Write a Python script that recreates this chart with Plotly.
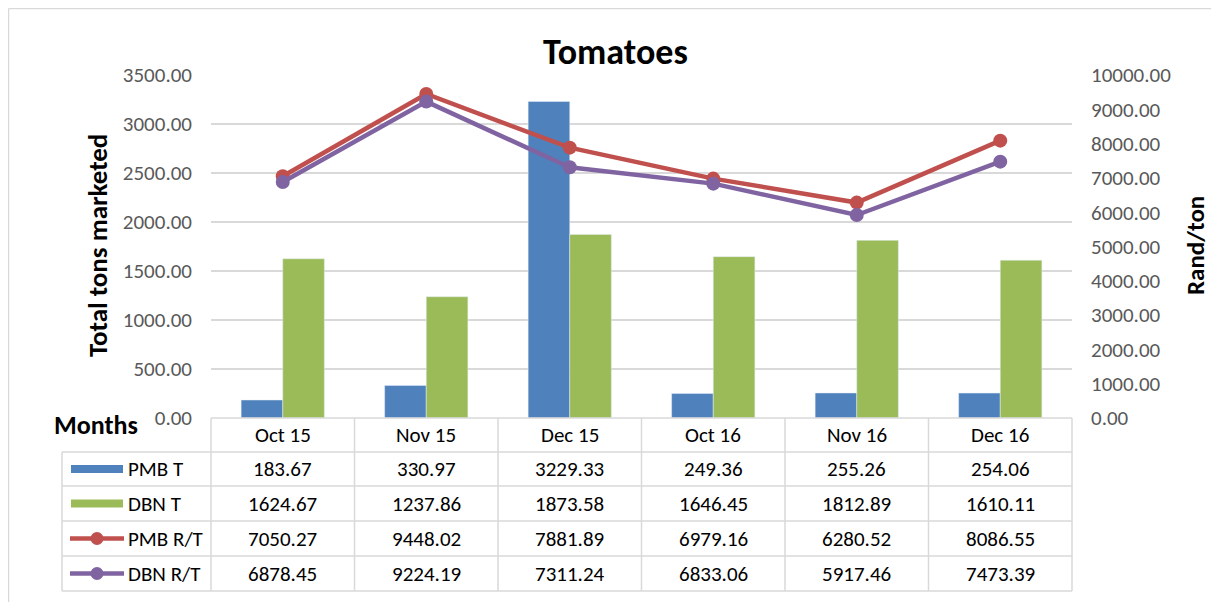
import plotly.graph_objects as go

categories = ["Oct 15", "Nov 15", "Dec 15", "Oct 16", "Nov 16", "Dec 16"]
pmb_t = [183.67, 330.97, 3229.33, 249.36, 255.26, 254.06]
dbn_t = [1624.67, 1237.86, 1873.58, 1646.45, 1812.89, 1610.11]
pmb_rt = [7050.27, 9448.02, 7881.89, 6979.16, 6280.52, 8086.55]
dbn_rt = [6878.45, 9224.19, 7311.24, 6833.06, 5917.46, 7473.39]
series_names = ["PMB T", "DBN T", "PMB R/T", "DBN R/T"]

BLUE = "#4F81BD"
GREEN = "#9BBB59"
RED = "#C0504D"
PURPLE = "#8064A2"
GRID = "#D9D9D9"
FONT = "Calibri, Carlito, Lato, sans-serif"

OFF = 8  # page body margin offset
W, H = 1219 - 2 * OFF, 610 - 2 * OFF
# plot area in reference pixel coords
RL, RR, RT, RB = 211, 1072, 75, 418
L, R, T, B = RL - OFF, RR - OFF, RT - OFF, RB - OFF


def px(x):
    return (x - RL) / (RR - RL)


def py(y):
    return (RB - y) / (RB - RT)


fig = go.Figure()
fig.add_trace(go.Bar(x=categories, y=pmb_t, name=series_names[0], marker_color=BLUE))
fig.add_trace(go.Bar(x=categories, y=dbn_t, name=series_names[1], marker_color=GREEN))
fig.add_trace(go.Scatter(x=categories, y=pmb_rt, name=series_names[2], yaxis="y2",
                         mode="lines+markers", line=dict(color=RED, width=4.5),
                         marker=dict(size=14, color=RED)))
fig.add_trace(go.Scatter(x=categories, y=dbn_rt, name=series_names[3], yaxis="y2",
                         mode="lines+markers", line=dict(color=PURPLE, width=4.5),
                         marker=dict(size=14, color=PURPLE)))

shapes = []
annotations = []
TXT = 21

# outer border (only top and left edges are visible in the picture)
shapes.append(dict(type="line", xref="paper", yref="paper", x0=px(8.5), x1=px(1219),
                   y0=py(8.5), y1=py(8.5), line=dict(color=GRID, width=1.5), layer="below"))
shapes.append(dict(type="line", xref="paper", yref="paper", x0=px(8.5), x1=px(8.5),
                   y0=py(8.5), y1=py(610), line=dict(color=GRID, width=1.5), layer="below"))

# table geometry
row_edges = [418, 452, 486, 521, 556, 591]
legend_left = 62
ncol = len(categories)
col_w = (RR - RL) / ncol
col_edges = [RL + i * col_w for i in range(ncol + 1)]

shapes.append(dict(type="line", xref="paper", yref="paper", x0=px(RL), x1=px(RR),
                   y0=py(418), y1=py(418), line=dict(color=GRID, width=1.5)))
for yy in row_edges[1:]:
    shapes.append(dict(type="line", xref="paper", yref="paper", x0=px(legend_left), x1=px(RR),
                       y0=py(yy), y1=py(yy), line=dict(color=GRID, width=1.5)))
shapes.append(dict(type="line", xref="paper", yref="paper", x0=px(legend_left), x1=px(legend_left),
                   y0=py(452), y1=py(591), line=dict(color=GRID, width=1.5)))
for xx in col_edges:
    shapes.append(dict(type="line", xref="paper", yref="paper", x0=px(xx), x1=px(xx),
                       y0=py(418), y1=py(591), line=dict(color=GRID, width=1.5)))

# header labels
for c in categories:
    annotations.append(dict(x=c, xref="x", y=py(435), yref="paper", text=c, showarrow=False,
                            xanchor="center", yanchor="middle",
                            font=dict(size=TXT, color="black", family=FONT)))

rows = [pmb_t, dbn_t, pmb_rt, dbn_rt]
colors = [BLUE, GREEN, RED, PURPLE]
for i, (name, vals, col) in enumerate(zip(series_names, rows, colors)):
    yc = (row_edges[i + 1] + row_edges[i + 2]) / 2
    for c, v in zip(categories, vals):
        annotations.append(dict(x=c, xref="x", y=py(yc), yref="paper", text=f"{v:.2f}",
                                showarrow=False, xanchor="center", yanchor="middle",
                                font=dict(size=TXT, color="black", family=FONT)))
    annotations.append(dict(x=px(126), xref="paper", y=py(yc), yref="paper", text=name,
                            xanchor="left", yanchor="middle", showarrow=False,
                            font=dict(size=TXT, color="black", family=FONT)))
    if i < 2:
        shapes.append(dict(type="rect", xref="paper", yref="paper", x0=px(71), x1=px(123),
                           y0=py(yc - 4), y1=py(yc + 4), fillcolor=col, line=dict(width=0)))
    else:
        shapes.append(dict(type="line", xref="paper", yref="paper", x0=px(70), x1=px(124),
                           y0=py(yc), y1=py(yc), line=dict(color=col, width=4.5)))
        shapes.append(dict(type="circle", xref="paper", yref="paper", x0=px(90.5), x1=px(103.5),
                           y0=py(yc - 6.5), y1=py(yc + 6.5), fillcolor=col, line=dict(width=0)))

# titles
annotations.append(dict(x=px(615), xref="paper", y=py(52), yref="paper", text="<b>Tomatoes</b>",
                        xanchor="center", yanchor="middle",
                        showarrow=False, font=dict(size=36, color="black", family=FONT)))
annotations.append(dict(x=px(98), xref="paper", y=py(246), yref="paper",
                        text="<b>Total tons marketed</b>", textangle=-90, showarrow=False,
                        xanchor="center", yanchor="middle",
                        font=dict(size=27, color="black", family=FONT)))
annotations.append(dict(x=px(1196), xref="paper", y=py(246), yref="paper",
                        text="<b>Rand/ton</b>", textangle=-90, showarrow=False,
                        xanchor="center", yanchor="middle",
                        font=dict(size=25, color="black", family=FONT)))
annotations.append(dict(x=px(96), xref="paper", y=py(425), yref="paper",
                        text="<b>Months</b>", showarrow=False,
                        xanchor="center", yanchor="middle",
                        font=dict(size=26, color="black", family=FONT)))

fig.update_layout(
    width=W, height=H,
    margin=dict(l=L, r=W - R, t=T, b=H - B, pad=0),
    paper_bgcolor="white", plot_bgcolor="white",
    showlegend=False,
    barmode="group", bargap=0.42, bargroupgap=0.0,
    font=dict(family=FONT, color="#595959", size=TXT),
    xaxis=dict(showticklabels=False, ticks="", showgrid=False, showline=False, zeroline=False,
               range=[-0.5, 5.5]),
    yaxis=dict(range=[0, 3500], dtick=500, tickformat=".2f", showgrid=True, gridcolor=GRID,
               gridwidth=1.5, zeroline=False, showline=False, ticks="",
               ticklabelstandoff=18, tickfont=dict(size=TXT, color="#595959")),
    yaxis2=dict(range=[0, 10000], dtick=1000, tickformat=".2f", overlaying="y", side="right",
                showgrid=False, zeroline=False, showline=False, ticks="",
                ticklabelstandoff=18, tickfont=dict(size=TXT, color="#595959")),
    shapes=shapes,
    annotations=annotations,
)

fig.write_html("out.html")
